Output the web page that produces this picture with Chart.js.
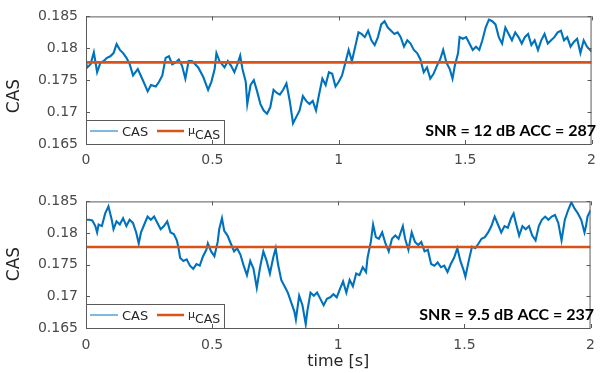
<!DOCTYPE html>
<html>
<head>
<meta charset="utf-8">
<script src="https://cdn.jsdelivr.net/npm/chart.js@4/dist/chart.umd.min.js"></script>
<style>
  html, body { margin: 0; padding: 0; background: #fff; }
  #wrap { position: relative; width: 604px; height: 373px; overflow: hidden; background: #fff; }
  canvas { position: absolute; left: 0; }
</style>
</head>
<body>
<div id="wrap">
  <canvas id="casTop" width="604" height="175" style="top:0px"></canvas>
  <canvas id="casBottom" width="604" height="188" style="top:185px"></canvas>
</div>
<script>
// Axis ticks
const xTicks = [0, 0.5, 1, 1.5, 2];
const xTickLabels = ['0', '0.5', '1', '1.5', '2'];
const yTicks = [0.165, 0.17, 0.175, 0.18, 0.185];
const yTickLabels = ['0.165', '0.17', '0.175', '0.18', '0.185'];

// Mean CAS level
const muCAS = 0.1778;

// Run 1: SNR = 12 dB
const timeA = [0.000,0.005,0.018,0.031,0.044,0.057,0.070,0.083,0.096,0.109,0.121,0.134,0.147,0.160,0.173,0.186,0.205,0.225,0.244,0.257,0.276,0.289,0.302,0.315,0.328,0.341,0.354,0.367,0.380,0.393,0.406,0.419,0.432,0.444,0.464,0.483,0.496,0.509,0.516,0.528,0.548,0.561,0.574,0.587,0.599,0.610,0.619,0.632,0.638,0.651,0.664,0.677,0.690,0.703,0.716,0.729,0.742,0.755,0.767,0.780,0.793,0.806,0.819,0.832,0.845,0.858,0.871,0.884,0.897,0.910,0.922,0.935,0.948,0.961,0.974,0.987,1.000,1.013,1.026,1.039,1.052,1.065,1.078,1.090,1.103,1.116,1.129,1.142,1.155,1.168,1.181,1.194,1.207,1.220,1.233,1.245,1.258,1.271,1.284,1.297,1.310,1.323,1.336,1.349,1.362,1.375,1.388,1.401,1.413,1.426,1.439,1.450,1.459,1.472,1.478,1.491,1.504,1.517,1.530,1.543,1.556,1.568,1.581,1.594,1.607,1.620,1.633,1.646,1.659,1.672,1.685,1.698,1.711,1.724,1.736,1.749,1.762,1.775,1.788,1.801,1.814,1.827,1.840,1.853,1.866,1.879,1.891,1.904,1.917,1.930,1.943,1.956,1.969,1.982,2.000];
const casA = [0.17775,0.17700,0.17750,0.17935,0.17625,0.17775,0.17800,0.17850,0.17875,0.17925,0.18065,0.17975,0.17925,0.17850,0.17750,0.17575,0.17675,0.17500,0.17325,0.17425,0.17400,0.17475,0.17575,0.17850,0.17875,0.17750,0.17775,0.17825,0.17725,0.17525,0.17800,0.17800,0.17750,0.17700,0.17550,0.17350,0.17475,0.17675,0.17925,0.17800,0.17700,0.17800,0.17725,0.17625,0.17750,0.17885,0.17675,0.17475,0.17125,0.17425,0.17500,0.17325,0.17125,0.17025,0.16975,0.17075,0.17350,0.17300,0.17275,0.17350,0.17450,0.17175,0.16825,0.16925,0.17025,0.17250,0.17175,0.17125,0.17175,0.17025,0.17275,0.17525,0.17425,0.17625,0.17600,0.17400,0.17475,0.17575,0.17775,0.17975,0.17800,0.18025,0.18250,0.18225,0.18175,0.18275,0.18125,0.18050,0.18175,0.18375,0.18425,0.18325,0.18275,0.18225,0.18250,0.18175,0.18025,0.18125,0.18075,0.17975,0.17925,0.17825,0.17625,0.17700,0.17525,0.17600,0.17725,0.17825,0.17975,0.17775,0.17675,0.17525,0.17725,0.17925,0.18175,0.18150,0.18175,0.18075,0.17975,0.18025,0.17975,0.18125,0.18325,0.18450,0.18425,0.18375,0.18175,0.18075,0.18325,0.18225,0.18125,0.18250,0.18175,0.18075,0.18175,0.18225,0.18050,0.18125,0.17975,0.18125,0.18225,0.18075,0.18125,0.18175,0.18250,0.18275,0.18125,0.18175,0.18025,0.18100,0.18150,0.17925,0.18125,0.18025,0.17950];

// Run 2: SNR = 9.5 dB
const timeB = [0.000,0.012,0.025,0.037,0.044,0.050,0.063,0.076,0.089,0.102,0.109,0.121,0.134,0.147,0.160,0.173,0.186,0.199,0.209,0.218,0.231,0.244,0.257,0.270,0.283,0.296,0.309,0.322,0.335,0.348,0.360,0.367,0.373,0.386,0.399,0.412,0.425,0.438,0.451,0.464,0.477,0.483,0.496,0.509,0.522,0.528,0.539,0.548,0.561,0.574,0.587,0.599,0.612,0.625,0.638,0.651,0.664,0.677,0.690,0.703,0.716,0.729,0.742,0.752,0.761,0.774,0.787,0.800,0.813,0.826,0.832,0.845,0.858,0.871,0.877,0.890,0.903,0.916,0.929,0.942,0.955,0.968,0.981,0.994,1.006,1.019,1.032,1.045,1.058,1.071,1.084,1.097,1.110,1.116,1.129,1.138,1.149,1.161,1.174,1.187,1.200,1.213,1.226,1.239,1.256,1.265,1.278,1.291,1.304,1.317,1.329,1.342,1.355,1.368,1.381,1.394,1.407,1.420,1.433,1.446,1.459,1.472,1.484,1.497,1.504,1.517,1.530,1.543,1.556,1.568,1.581,1.594,1.607,1.620,1.633,1.646,1.659,1.672,1.685,1.695,1.704,1.717,1.730,1.743,1.756,1.769,1.782,1.795,1.807,1.820,1.833,1.846,1.859,1.872,1.885,1.898,1.911,1.924,1.937,1.950,1.963,1.976,1.982,1.988,2.000];
const casB = [0.18210,0.18210,0.18200,0.18110,0.18010,0.18135,0.18110,0.18310,0.18420,0.18210,0.18060,0.18185,0.18135,0.18235,0.18110,0.18210,0.18160,0.18010,0.17835,0.18010,0.18135,0.18260,0.18210,0.18260,0.18160,0.18060,0.18110,0.18185,0.18010,0.17985,0.17885,0.17760,0.17610,0.17560,0.17585,0.17485,0.17435,0.17510,0.17485,0.17635,0.17735,0.17835,0.17710,0.17635,0.17860,0.18060,0.18235,0.18035,0.17960,0.17835,0.17710,0.17760,0.17660,0.17485,0.17335,0.17560,0.17435,0.17135,0.17460,0.17710,0.17560,0.17360,0.17610,0.17760,0.17510,0.17260,0.17160,0.17060,0.16910,0.16760,0.16635,0.17010,0.16860,0.16560,0.16760,0.17060,0.17010,0.17060,0.16960,0.16860,0.16960,0.16985,0.17035,0.16985,0.17110,0.17235,0.17060,0.17260,0.17160,0.17360,0.17335,0.17460,0.17385,0.17610,0.17860,0.18135,0.17935,0.17910,0.18010,0.17835,0.17710,0.17910,0.17960,0.17910,0.18110,0.17910,0.17735,0.18010,0.17860,0.17810,0.17860,0.17710,0.17735,0.17510,0.17485,0.17535,0.17460,0.17485,0.17385,0.17510,0.17610,0.17760,0.17560,0.17410,0.17310,0.17560,0.17785,0.17760,0.17835,0.17910,0.17935,0.18010,0.18110,0.18260,0.18135,0.18010,0.18110,0.18085,0.18235,0.18310,0.18160,0.17960,0.18110,0.18060,0.18110,0.17960,0.17885,0.18110,0.18210,0.18260,0.18210,0.18260,0.18285,0.18160,0.17885,0.18210,0.18360,0.18485,0.18385,0.18310,0.18210,0.18010,0.18110,0.18260,0.18360];

const notes = ['SNR = 12 dB ACC = 287', 'SNR = 9.5 dB ACC = 237'];

const BLUE = '#0072BD';
const ORANGE = '#D95319';
const AXIS = '#5a5a5a';
const TEXT = '#262626';
const TICKTEXT = '#4a4a4a';
const TICKFONT = { family: 'DejaVu Sans', size: 14 };

// Box, inward tick marks, legend, y label and annotation in MATLAB style
const matlabAxes = {
  id: 'matlabAxes',
  afterDatasetsDraw(chart, args, opts) {
    const { ctx, chartArea: a } = chart;
    // legend box in the lower-left corner
    const lx = a.left, lw = 139, lh = 24, ly = a.bottom - lh;
    const cy = ly + 11;
    ctx.save();
    ctx.fillStyle = '#fff';
    ctx.fillRect(lx, ly, lw, lh);
    ctx.strokeStyle = AXIS;
    ctx.lineWidth = 1;
    ctx.strokeRect(lx + 0.5, ly + 0.5, lw - 1, lh);
    ctx.lineWidth = 1;
    ctx.strokeStyle = BLUE;
    ctx.beginPath(); ctx.moveTo(lx + 4, cy); ctx.lineTo(lx + 32, cy); ctx.stroke();
    ctx.lineWidth = 2.5;
    ctx.strokeStyle = ORANGE;
    ctx.beginPath(); ctx.moveTo(lx + 71, cy); ctx.lineTo(lx + 98, cy); ctx.stroke();
    ctx.fillStyle = TEXT;
    ctx.textBaseline = 'alphabetic';
    ctx.textAlign = 'left';
    ctx.font = '13px "DejaVu Sans"';
    ctx.fillText(chart.data.datasets[0].label, lx + 36, cy + 5);
    ctx.font = '11px "DejaVu Sans"';
    ctx.fillText('\u03BC', lx + 102, cy + 3);
    ctx.font = '12.5px "DejaVu Sans"';
    ctx.fillText('CAS', lx + 109, cy + 8);
    ctx.restore();
  },
  afterDraw(chart, args, opts) {
    const { ctx, chartArea: a, scales } = chart;
    ctx.save();
    ctx.strokeStyle = AXIS;
    ctx.lineWidth = 1;
    ctx.strokeRect(a.left + 0.5, a.top + 0.5, a.right - a.left - 1, a.bottom - a.top);
    const tl = 4;
    ctx.beginPath();
    xTicks.forEach(v => {
      const px = Math.round(scales.x.getPixelForValue(v)) + 0.5;
      ctx.moveTo(px, a.bottom); ctx.lineTo(px, a.bottom - tl);
      ctx.moveTo(px, a.top); ctx.lineTo(px, a.top + tl);
    });
    yTicks.forEach(v => {
      const py = Math.round(scales.y.getPixelForValue(v)) + 0.5;
      ctx.moveTo(a.left, py); ctx.lineTo(a.left + tl, py);
      ctx.moveTo(a.right, py); ctx.lineTo(a.right - tl, py);
    });
    ctx.stroke();

    // y label
    ctx.fillStyle = TEXT;
    ctx.font = '17px "DejaVu Sans"';
    ctx.textAlign = 'center';
    ctx.textBaseline = 'middle';
    ctx.translate(15, opts.ylabelY);
    ctx.rotate(-Math.PI / 2);
    ctx.fillText('CAS', 0, 0);
    ctx.restore();

    // annotation
    ctx.save();
    ctx.fillStyle = '#000';
    ctx.font = 'bold 16px Lato';
    ctx.textAlign = 'right';
    ctx.textBaseline = 'alphabetic';
    ctx.fillText(opts.note, opts.noteX, a.bottom - 8);
    ctx.restore();
  }
};

function makeChart(id, times, values, o) {
  const trace = times.map((t, i) => ({ x: t, y: values[i] }));
  const mean = [{ x: xTicks[0], y: muCAS }, { x: xTicks[xTicks.length - 1], y: muCAS }];
  return new Chart(document.getElementById(id), {
    type: 'line',
    data: {
      datasets: [
        { label: 'CAS', data: trace, borderColor: BLUE, borderWidth: 2.1, pointRadius: 0, tension: 0, order: 2 },
        { label: '\u03BCCAS', data: mean, borderColor: ORANGE, borderWidth: 2.6, pointRadius: 0, tension: 0, order: 1 }
      ]
    },
    options: {
      responsive: false,
      animation: false,
      devicePixelRatio: 1,
      layout: { padding: { top: 12, right: 3, left: 0, bottom: 0 } },
      plugins: {
        legend: { display: false },
        tooltip: { enabled: false },
        matlabAxes: { note: o.note, noteX: o.noteX, ylabelY: o.ylabelY }
      },
      scales: {
        x: {
          type: 'linear', min: 0, max: 2,
          afterBuildTicks: s => { s.ticks = xTicks.map(v => ({ value: v })); },
          afterFit: s => { s.height = o.xHeight; },
          ticks: {
            callback: v => xTickLabels[xTicks.indexOf(v)],
            padding: o.xPad, color: TICKTEXT, font: TICKFONT, maxRotation: 0, autoSkip: false
          },
          grid: { display: false, drawTicks: false },
          border: { display: false },
          title: o.xTitle ? {
            display: true, text: o.xTitle, color: TEXT,
            font: { family: 'DejaVu Sans', size: 16 }, padding: { top: 0, bottom: 2 }
          } : { display: false }
        },
        y: {
          type: 'linear', min: 0.165, max: 0.185,
          afterBuildTicks: s => { s.ticks = yTicks.map(v => ({ value: v })); },
          afterFit: s => { s.width = 86; },
          ticks: {
            callback: v => yTickLabels[yTicks.findIndex(t => Math.abs(t - v) < 1e-9)],
            padding: 8, color: TICKTEXT, font: TICKFONT, autoSkip: false
          },
          grid: { display: false, drawTicks: false },
          border: { display: false }
        }
      }
    },
    plugins: [matlabAxes]
  });
}

makeChart('casTop', timeA, casA, { note: notes[0], noteX: 596, ylabelY: 96, xHeight: 31, xPad: 8 });
makeChart('casBottom', timeB, casB, { note: notes[1], noteX: 594, ylabelY: 79, xHeight: 45, xPad: 9, xTitle: 'time [s]' });
</script>
</body>
</html>
